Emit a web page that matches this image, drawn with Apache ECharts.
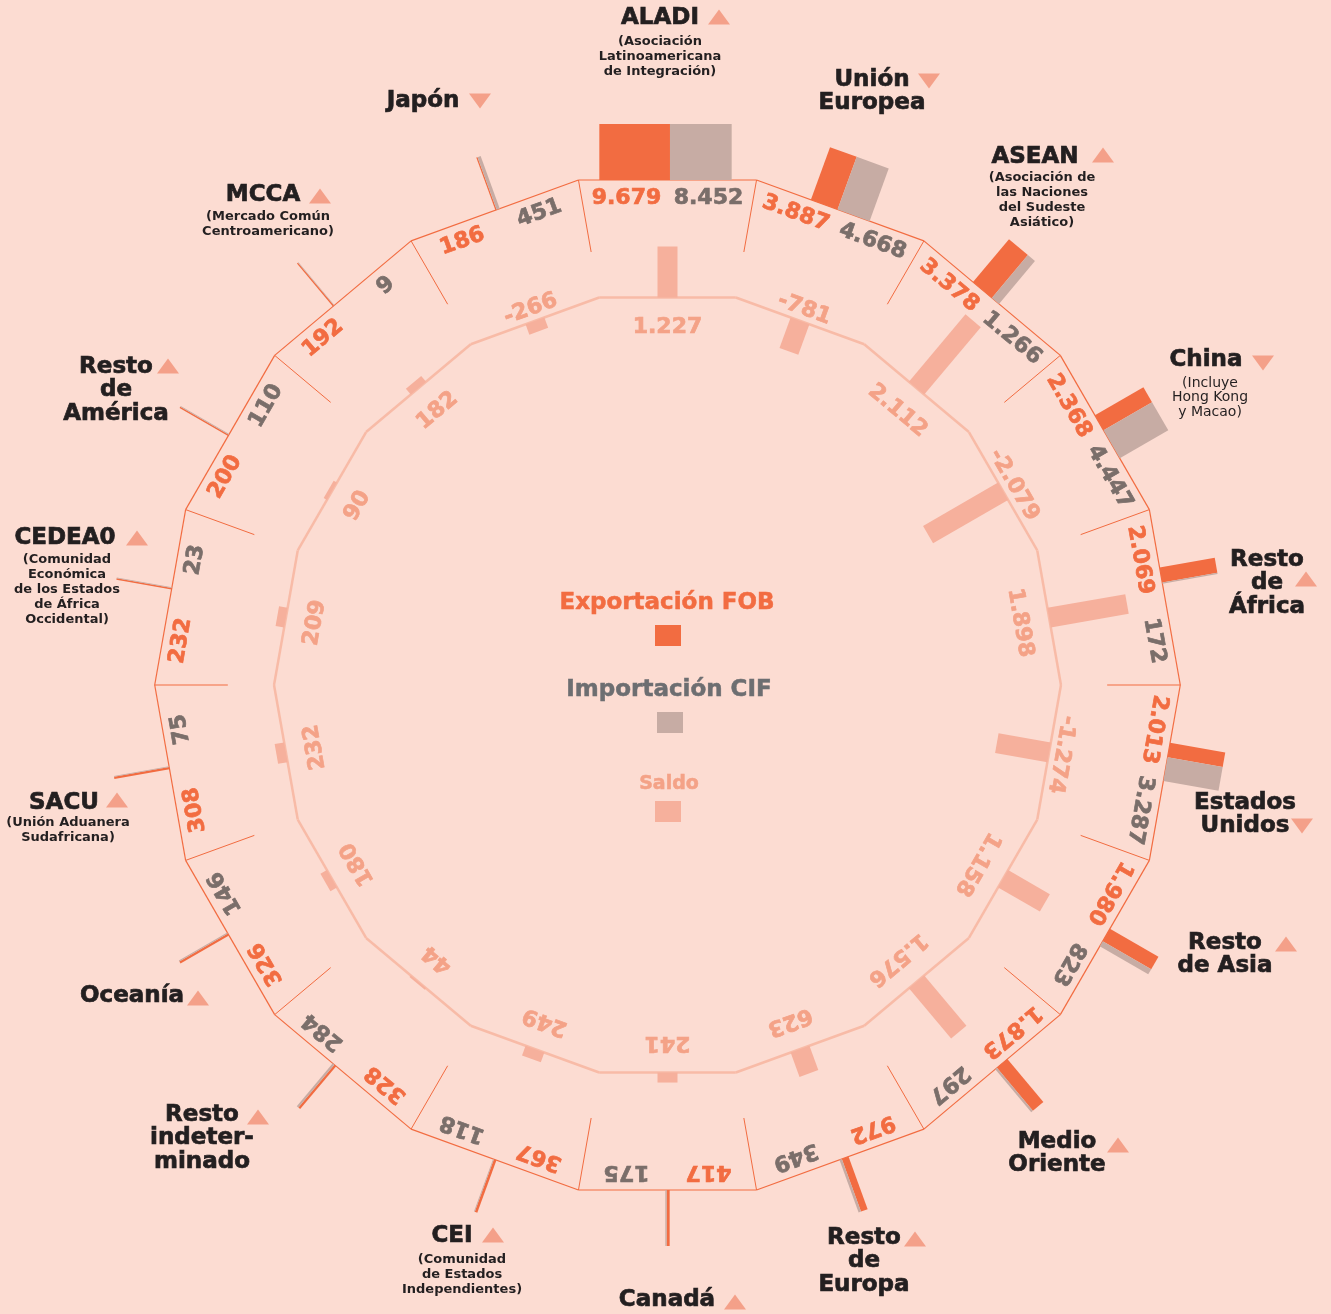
<!DOCTYPE html>
<html>
<head>
<meta charset="utf-8">
<script src="https://cdn.jsdelivr.net/npm/echarts@6/dist/echarts.min.js"></script>
<style>
html,body{margin:0;padding:0;background:#fcdcd2;}
#chart{width:1331px;height:1314px;}
</style>
</head>
<body>
<div id="chart"></div>
<script>
// regiones en sentido horario desde arriba
var regions = ['ALADI','Unión Europea','ASEAN','China','Resto de África','Estados Unidos','Resto de Asia','Medio Oriente','Resto de Europa','Canadá','CEI','Resto indeterminado','Oceanía','SACU','CEDEA0','Resto de América','MCCA','Japón'];
var exportFOB = [9679,3887,3378,2368,2069,2013,1980,1873,972,417,367,328,326,308,232,200,192,186];
var importCIF = [8452,4668,1266,4447,172,3287,823,297,349,175,118,284,146,75,23,110,9,451];
var saldo = [1227,-781,2112,-2079,1898,-1274,1158,1576,623,241,249,44,180,232,209,90,182,-266];

var nameLines = [['ALADI'],['Unión','Europea'],['ASEAN'],['China'],['Resto','de','África'],['Estados','Unidos'],['Resto','de Asia'],['Medio','Oriente'],['Resto','de','Europa'],['Canadá'],['CEI'],['Resto','indeter-','minado'],['Oceanía'],['SACU'],['CEDEA0'],['Resto','de','América'],['MCCA'],['Japón']];
var notes = [['(Asociación','Latinoamericana','de Integración)'],[],['(Asociación de','las Naciones','del Sudeste','Asiático)'],['(Incluye','Hong Kong','y Macao)'],[],[],[],[],[],[],['(Comunidad','de Estados','Independientes)'],[],[],['(Unión Aduanera','Sudafricana)'],['(Comunidad','Económica','de los Estados','de África','Occidental)'],[],['(Mercado Común','Centroamericano)'],[]];

// posiciones de los rótulos (centro de la primera línea)
var namePos = [[660,18],[872,80],[1035,157],[1206,360],[1267,560],[1245,803],[1225,943],[1057,1142],[864,1238],[667,1300],[452,1236],[202,1115],[132,996],[64,803],[65,538],[116,367],[263,195],[423,101]];
var triPos = [[719,17],[929,81],[1103,155],[1263,363],[1306,579],[1302,826],[1286,944],[1118,1145],[915,1239],[735,1302],[493,1235],[258,1117],[198,998],[117,800],[137,538],[168,366],[320,196],[480,101]];
var notePos = [[660,42],null,[1042,178],[1210,383],null,null,null,null,null,null,[462,1260],null,null,[68,823],[67,560],null,[268,217],null];
// desplazamiento tangencial de cada par de barras (px, sentido horario)
var barShift = [-2,0,-8,5,-22,-11,0,-12,-4,0,0,11,4,5,9,-3,-12,3];

var ORANGE = '#f26c41', GREY = '#c7aca4', GREYTXT = '#7a6e6a', SALDO = '#f6b09c', SALDOTXT = '#f4a287', INK = '#231f20';
var FONT = 'DejaVu Sans';
var RMIN = -9300, RMAX = 5100;
var OUT = 505, SEP_IN = 433, BAR_LEN = 56, WSCALE = 0.0073, TAN = Math.tan(Math.PI / 18);

function fmt(v) {
  var s = String(Math.abs(v)).replace(/\B(?=(\d{3})+(?!\d))/g, '.');
  return (v < 0 ? '-' : '') + s;
}

function renderItem(params, api) {
  var i = api.value(0);
  var c = api.coord([RMIN, i]);
  var p0 = api.coord([0, i]);
  var dx = p0[0] - c[0], dy = p0[1] - c[1];
  var base = Math.sqrt(dx * dx + dy * dy);
  var u = [dx / base, dy / base];
  var t = [-u[1], u[0]];
  var rot = -Math.atan2(u[0], -u[1]);
  function P(r, s) { return [c[0] + u[0] * r + t[0] * s, c[1] + u[1] * r + t[1] * s]; }
  function quad(r1, r2, s1, s2) { return [P(r1, s1), P(r1, s2), P(r2, s2), P(r2, s1)]; }

  var sv = api.value(1), ev = api.value(2), iv = api.value(3);
  var ps = api.coord([sv, i]);
  var rs = Math.sqrt(Math.pow(ps[0] - c[0], 2) + Math.pow(ps[1] - c[1], 2));
  if (Math.abs(rs - base) < 2) rs = base + (sv < 0 ? -2 : 2);

  var we = Math.max(ev * WSCALE, 1.2), wi = Math.max(iv * WSCALE, 0.6);
  var s0 = -(we + wi) / 2 + barShift[i];
  var h = OUT * TAN, hb = base * TAN;
  var children = [
    { type: 'line', shape: { x1: P(OUT, -h)[0], y1: P(OUT, -h)[1], x2: P(OUT, h)[0], y2: P(OUT, h)[1] }, style: { stroke: ORANGE, lineWidth: 1.2 } },
    { type: 'line', shape: { x1: P(OUT, h)[0], y1: P(OUT, h)[1], x2: P(SEP_IN, SEP_IN * TAN)[0], y2: P(SEP_IN, SEP_IN * TAN)[1] }, style: { stroke: ORANGE, lineWidth: 1 } },
    { type: 'line', shape: { x1: P(base, -hb)[0], y1: P(base, -hb)[1], x2: P(base, hb)[0], y2: P(base, hb)[1] }, style: { stroke: '#f8bba7', lineWidth: 2.5 } },
    { type: 'polygon', shape: { points: quad(OUT, OUT + BAR_LEN, s0, s0 + we) }, style: { fill: ORANGE } },
    { type: 'polygon', shape: { points: quad(OUT, OUT + BAR_LEN, s0 + we, s0 + we + wi) }, style: { fill: GREY } },
    { type: 'polygon', shape: { points: quad(base, rs, -10, 10) }, style: { fill: SALDO } }
  ];
  var txt = [[fmt(ev), ORANGE, P(487, -41)], [fmt(iv), GREYTXT, P(487, 41)], [fmt(sv), SALDOTXT, P(sv > 0 ? 358 : 400, 0)]];
  txt.forEach(function (d) {
    children.push({
      type: 'text', x: d[2][0], y: d[2][1], rotation: rot,
      style: { text: d[0], fill: d[1], stroke: d[1], lineWidth: 0.7, font: 'bold 22px "' + FONT + '"', align: 'center', verticalAlign: 'middle' }
    });
  });
  return { type: 'group', children: children };
}

var graphics = [];
regions.forEach(function (name, i) {
  var lh = 23.5;
  graphics.push({
    type: 'text', x: namePos[i][0], y: namePos[i][1] - lh / 2,
    style: { text: nameLines[i].join('\n'), fill: INK, stroke: INK, lineWidth: 0.7, font: 'bold 23px "' + FONT + '"', lineHeight: lh, align: 'center', verticalAlign: 'top' }
  });
  if (notePos[i]) {
    var regular = name === 'China';
    var nlh = regular ? 14.5 : 14.8;
    graphics.push({
      type: 'text', x: notePos[i][0], y: notePos[i][1] - nlh / 2,
      style: { text: notes[i].join('\n'), fill: INK, font: (regular ? '' : 'bold ') + (regular ? 14 : 13) + 'px "' + FONT + '"', lineHeight: nlh, align: 'center', verticalAlign: 'top' }
    });
  }
  var x = triPos[i][0], y = triPos[i][1], up = saldo[i] > 0;
  graphics.push({
    type: 'polygon',
    shape: { points: up ? [[x - 11, y + 7.5], [x + 11, y + 7.5], [x, y - 7.5]] : [[x - 11, y - 7.5], [x + 11, y - 7.5], [x, y + 7.5]] },
    style: { fill: '#f4a089' }
  });
});

// leyenda central
graphics.push(
  { type: 'text', x: 667, y: 603, style: { text: 'Exportación FOB', fill: ORANGE, stroke: ORANGE, lineWidth: 0.5, font: 'bold 23px "' + FONT + '"', align: 'center', verticalAlign: 'middle' } },
  { type: 'rect', shape: { x: 655, y: 625, width: 26, height: 21 }, style: { fill: ORANGE } },
  { type: 'text', x: 669, y: 690, style: { text: 'Importación CIF', fill: '#6d6e71', stroke: '#6d6e71', lineWidth: 0.5, font: 'bold 23px "' + FONT + '"', align: 'center', verticalAlign: 'middle' } },
  { type: 'rect', shape: { x: 657, y: 712, width: 26, height: 21 }, style: { fill: GREY } },
  { type: 'text', x: 669, y: 784, style: { text: 'Saldo', fill: SALDOTXT, stroke: SALDOTXT, lineWidth: 0.5, font: 'bold 19px "' + FONT + '"', align: 'center', verticalAlign: 'middle' } },
  { type: 'rect', shape: { x: 655, y: 801, width: 26, height: 21 }, style: { fill: SALDO } }
);

var chart = echarts.init(document.getElementById('chart'), null, { renderer: 'canvas' });
chart.setOption({
  backgroundColor: '#fcdcd2',
  animation: false,
  polar: { center: [667.5, 685], radius: 600 },
  angleAxis: { type: 'value', min: 0, max: 18, startAngle: 90, clockwise: true, show: false, splitLine: { show: false } },
  radiusAxis: { type: 'value', min: RMIN, max: RMAX, show: false, splitLine: { show: false } },
  graphic: graphics,
  series: [{
    type: 'custom',
    coordinateSystem: 'polar',
    renderItem: renderItem,
    encode: { angle: 0, radius: 1 },
    data: regions.map(function (n, i) { return [i, saldo[i], exportFOB[i], importCIF[i]]; })
  }]
});
</script>
</body>
</html>
